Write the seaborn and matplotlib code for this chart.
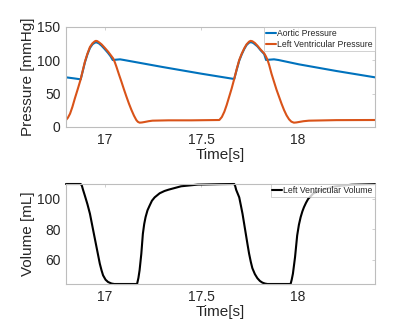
import matplotlib
matplotlib.use("Agg")
import matplotlib.pyplot as plt
import seaborn as sns

# ---- data ----
t_lv = [16.800, 16.810, 16.821, 16.833, 16.846, 16.861, 16.876, 16.887, 16.898,
        16.911, 16.924, 16.937, 16.949, 16.955, 16.962, 16.972, 16.984, 17.000,
        17.018, 17.031, 17.044, 17.053, 17.061, 17.074, 17.087, 17.100, 17.113,
        17.126, 17.139, 17.152, 17.164, 17.172, 17.181, 17.193, 17.207, 17.228,
        17.248, 17.331, 17.450, 17.594, 17.607, 17.620, 17.632, 17.645, 17.658,
        17.671, 17.684, 17.697, 17.710, 17.723, 17.735, 17.748, 17.756, 17.765,
        17.778, 17.791, 17.808, 17.826, 17.835, 17.843, 17.852, 17.864, 17.877,
        17.890, 17.903, 17.916, 17.929, 17.942, 17.955, 17.967, 17.980, 17.992,
        18.006, 18.030, 18.058, 18.200, 18.400]
p_lv = [10.5, 14.0, 20.0, 30.0, 43.0, 57.0, 71.5, 85.0, 98.0,
        110.0, 120.0, 125.5, 128.5, 129.2, 128.8, 126.8, 124.0, 119.0,
        113.0, 108.0, 103.0, 97.0, 90.5, 79.0, 68.0, 56.5, 45.5,
        35.0, 25.5, 17.0, 10.5, 7.8, 6.5, 6.8, 7.5, 8.7,
        9.5, 10.0, 10.0, 10.5, 15.0, 23.0, 33.0, 45.5, 58.0,
        72.0, 87.0, 100.5, 110.0, 118.0, 124.0, 128.0, 129.2, 128.6,
        126.0, 122.0, 116.0, 110.5, 106.0, 101.0, 93.0, 80.0, 68.0,
        56.0, 45.5, 35.0, 25.5, 17.5, 11.5, 8.0, 6.5, 6.8,
        7.5, 8.7, 9.5, 10.3, 10.5]

t_ao = [16.800, 16.840, 16.876, 16.887, 16.898, 16.911, 16.924, 16.937, 16.949,
        16.958, 16.970, 16.984, 17.000, 17.018, 17.031, 17.042, 17.060, 17.080,
        17.100, 17.300, 17.500, 17.671, 17.684, 17.697, 17.710, 17.723, 17.735,
        17.748, 17.758, 17.770, 17.791, 17.808, 17.826, 17.836, 17.855, 17.877,
        17.900, 18.006, 18.200, 18.400]
p_ao = [74.5, 73.0, 71.5, 84.0, 97.0, 109.0, 118.5, 124.0, 126.5,
        127.0, 125.5, 122.0, 117.0, 111.0, 106.0, 100.5, 101.0, 101.5,
        100.5, 90.0, 80.0, 72.0, 86.0, 99.5, 109.0, 117.0, 123.0,
        126.5, 127.3, 126.0, 121.0, 115.0, 109.5, 100.5, 101.0, 101.5,
        100.5, 94.0, 84.0, 74.5]

t_vol = [16.800, 16.876, 16.882, 16.887, 16.898, 16.911, 16.924, 16.941, 16.958,
         16.975, 16.984, 16.992, 17.005, 17.018, 17.036, 17.050, 17.168, 17.175,
         17.181, 17.190, 17.198, 17.205, 17.212, 17.222, 17.233, 17.245, 17.259,
         17.285, 17.310, 17.332, 17.396, 17.482, 17.600, 17.671, 17.676, 17.681,
         17.689, 17.697, 17.705, 17.714, 17.722, 17.731, 17.740, 17.748, 17.757,
         17.765, 17.778, 17.791, 17.804, 17.817, 17.830, 17.843, 17.963, 17.969,
         17.975, 17.986, 17.997, 18.006, 18.015, 18.024, 18.032, 18.043, 18.054,
         18.080, 18.104, 18.128, 18.192, 18.278, 18.400]
v_lv = [109.8, 109.8, 108.8, 106.5, 102.0, 96.5, 90.2, 79.2, 68.3,
        57.4, 53.0, 49.7, 46.8, 45.3, 44.3, 44.0, 44.0, 48.0,
        53.0, 63.9, 77.0, 83.5, 88.0, 92.5, 95.6, 98.8, 101.0,
        103.7, 105.2, 106.1, 108.3, 109.4, 109.7, 109.8, 108.5, 106.0,
        103.5, 101.0, 96.0, 90.2, 84.0, 77.0, 70.0, 64.0, 58.5,
        54.4, 50.5, 47.8, 46.0, 44.9, 44.3, 44.0, 44.0, 47.0,
        50.8, 61.7, 75.9, 83.0, 88.0, 91.8, 94.5, 97.5, 100.0,
        103.5, 105.0, 106.0, 108.2, 109.3, 109.7]

x_ticks = [17, 17.5, 18]
x_labels = ["17", "17.5", "18"]

sns.set_style("white")
plt.rcParams["font.family"] = ["Liberation Sans", "DejaVu Sans"]

fig = plt.figure(figsize=(3.96, 3.30), dpi=100)
ax1 = fig.add_axes([66 / 396, 1 - 127 / 330, 309 / 396, 100 / 330])
ax2 = fig.add_axes([66 / 396, 1 - 284 / 330, 309 / 396, 100 / 330])

blue = "#0072BD"
orange = "#D95319"

sns.lineplot(x=t_ao, y=p_ao, ax=ax1, color=blue, lw=1.5, estimator=None,
             sort=False, label="Aortic Pressure")
sns.lineplot(x=t_lv, y=p_lv, ax=ax1, color=orange, lw=1.5, estimator=None,
             sort=False, label="Left Ventricular Pressure")
sns.lineplot(x=t_vol, y=v_lv, ax=ax2, color="black", lw=1.5, estimator=None,
             sort=False, label="Left Ventricular Volume", clip_on=False)

ax1.set_ylim(0, 150)
ax1.set_yticks([0, 50, 100, 150])
ax1.set_ylabel("Pressure [mmHg]", fontsize=11, color="#262626", labelpad=2)
ax2.set_ylim(44, 109.8)
ax2.set_yticks([60, 80, 100])
ax2.set_ylabel("Volume [mL]", fontsize=11, color="#262626", labelpad=2)

for ax in (ax1, ax2):
    ax.set_xlim(16.8, 18.4)
    ax.set_xticks(x_ticks)
    ax.set_xticklabels(x_labels)
    ax.set_xlabel("Time[s]", fontsize=11, color="#262626", labelpad=1)
    ax.tick_params(direction="in", length=2.5, width=0.5, colors="#bdbdbd",
                   labelcolor="#262626", labelsize=10, pad=4,
                   top=True, right=True)
    for s in ax.spines.values():
        s.set_color("#bdbdbd")
        s.set_linewidth(0.8)
    leg = ax.legend(loc="upper right", bbox_to_anchor=(1.0, 1.0),
                    borderaxespad=0.05, fontsize=6.2, frameon=True,
                    fancybox=False, handlelength=1.1, handletextpad=0.2,
                    borderpad=0.2, labelspacing=0.25)
    leg.get_frame().set_edgecolor("#bdbdbd")
    leg.get_frame().set_linewidth(0.6)
    leg.set_zorder(5)

fig.savefig("out.png", dpi=100)
